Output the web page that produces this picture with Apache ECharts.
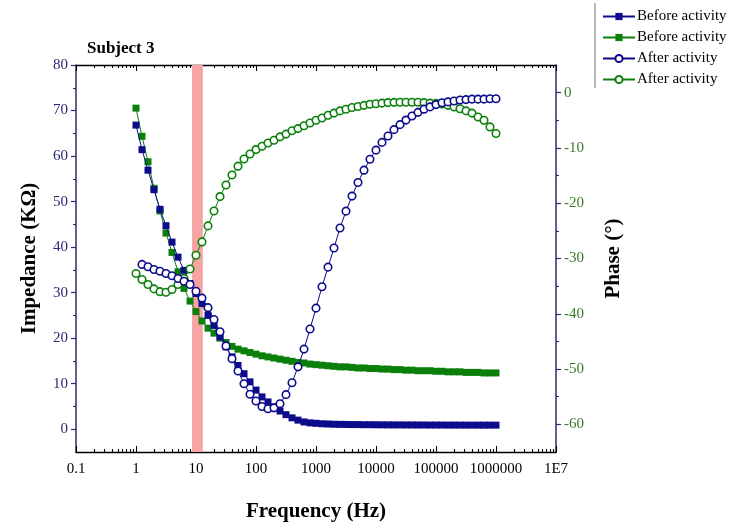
<!DOCTYPE html>
<html><head><meta charset="utf-8">
<script src="https://cdn.jsdelivr.net/npm/echarts@6/dist/echarts.min.js"></script>
<style>html,body{margin:0;padding:0;background:#fff}#c{width:735px;height:529px}</style>
</head><body><div id="c"></div>
<script>
const freq = [1,1.259,1.585,1.995,2.512,3.162,3.981,5.012,6.31,7.943,
  10,12.59,15.85,19.95,25.12,31.62,39.81,50.12,63.1,79.43,
  100,125.9,158.5,199.5,251.2,316.2,398.1,501.2,631,794.3,
  1000,1259,1585,1995,2512,3162,3981,5012,6310,7943,
  10000,12589,15849,19953,25119,31623,39811,50119,63096,79433,
  100000,125893,158489,199526,251189,316228,398107,501187,630957,794328,1000000];
const impedanceBefore = [66.8,61.4,56.9,52.6,48.3,44.7,41.1,37.8,34.9,32.0,
  29.8,27.6,25.0,22.8,20.3,18.1,15.9,14.0,12.2,10.4,
  8.6,7.1,6.0,4.9,4.0,3.2,2.5,2.0,1.6,1.4,
  1.3,1.2,1.15,1.1,1.07,1.05,1.03,1.02,1.0,1.0,
  0.98,0.97,0.96,0.95,0.95,0.94,0.94,0.93,0.93,0.92,
  0.92,0.92,0.91,0.91,0.91,0.9,0.9,0.9,0.9,0.9,0.9];
const phaseBefore = [-2.8,-7.9,-12.5,-17.3,-21.4,-25.4,-28.9,-32.4,-35.4,-37.7,
  -39.6,-41.3,-42.6,-43.5,-44.4,-45.2,-45.9,-46.4,-46.7,-47.0,
  -47.3,-47.6,-47.8,-48.0,-48.2,-48.4,-48.6,-48.8,-48.9,-49.1,
  -49.2,-49.3,-49.4,-49.5,-49.6,-49.6,-49.7,-49.8,-49.8,-49.9,
  -49.9,-50.0,-50.0,-50.1,-50.1,-50.2,-50.2,-50.3,-50.3,-50.3,
  -50.4,-50.4,-50.5,-50.5,-50.5,-50.6,-50.6,-50.6,-50.7,-50.7,-50.7];
const impedanceAfter = [null,36.2,35.7,35.1,34.7,34.2,33.7,33.1,32.5,31.8,
  30.3,28.8,26.7,24.1,21.4,18.3,15.5,12.8,10.0,7.7,
  6.2,5.0,4.5,4.7,5.6,7.6,10.2,13.7,17.6,22.0,
  26.6,31.3,35.6,39.8,44.2,47.9,51.2,54.2,56.9,59.3,
  61.3,63.0,64.4,65.8,66.9,67.9,68.8,69.6,70.3,70.8,
  71.3,71.7,71.9,72.1,72.3,72.4,72.5,72.5,72.5,72.6,72.6];
const phaseAfter = [-32.7,-33.8,-34.7,-35.5,-36.0,-36.1,-35.6,-34.7,-33.6,-31.9,
  -29.4,-27.0,-24.1,-21.4,-18.8,-16.7,-14.9,-13.3,-12.0,-11.1,
  -10.3,-9.7,-9.1,-8.6,-8.0,-7.5,-6.9,-6.5,-6.0,-5.5,
  -5.0,-4.6,-4.1,-3.7,-3.3,-3.0,-2.7,-2.5,-2.3,-2.1,
  -2.0,-1.9,-1.8,-1.76,-1.75,-1.75,-1.75,-1.75,-1.8,-1.9,
  -1.95,-2.05,-2.3,-2.6,-2.9,-3.3,-3.7,-4.4,-5.0,-6.2,-7.4];
const xTickLabels = ['0.1','1','10','100','1000','10000','100000','1000000','1E7'];
const leftTicks = [0,10,20,30,40,50,60,70,80];
const leftMinor = [5,15,25,35,45,55,65,75];
const rightTicks = [-60,-50,-40,-30,-20,-10,0];
const rightMinor = [-55,-45,-35,-25,-15,-5];
const bandRange = [8.6, 13];
const seriesNames = ['Before activity','Before activity','After activity','After activity'];

const FONT = 'Liberation Serif';
const NAVY = '#0b0b8c';
const GREEN = '#0a800a';
const AXIS_NAVY = '#2d2d72';

// decorative log-space tick positions (decades -1..7)
const majorLog = [], minorLog = [];
for (let n = -1; n <= 7; n++) {
  majorLog.push(n);
  if (n < 7) for (let m = 2; m <= 9; m++) minorLog.push(n + Math.log10(m));
}
function pairs(ys) { return freq.map((f, i) => [f, ys[i]]); }
function xLabel(v) {
  const idx = Math.round(Math.log10(v)) + 1;
  return xTickLabels[idx] !== undefined ? xTickLabels[idx] : '';
}

const chart = echarts.init(document.getElementById('c'));
const tickAxis = (pos, values, len, showLine) => ({
  type: 'value', min: -1, max: 7, position: pos, gridIndex: 0,
  axisLine: { show: showLine, onZero: false, lineStyle: { color: '#000', width: 1.3 } },
  axisTick: { show: true, inside: true, length: len, customValues: values, lineStyle: { color: '#000', width: 1.1 } },
  axisLabel: { show: false }, splitLine: { show: false }
});
const option = {
  animation: false,
  backgroundColor: '#fff',
  title: { text: 'Subject 3', left: 82, top: 35, textStyle: { fontFamily: FONT, fontWeight: 'bold', fontSize: 17, color: '#000' } },
  legend: {
    orient: 'vertical', left: 597, top: 4, itemWidth: 32, itemHeight: 9, itemGap: 6,
    data: ['s0','s1','s2','s3'],
    formatter: n => seriesNames[+n.slice(1)],
    textStyle: { fontFamily: FONT, fontSize: 15, color: '#000', lineHeight: 15, padding: [0, 0, 0, -3] }
  },
  graphic: [{ type: 'line', shape: { x1: 595, y1: 3, x2: 595, y2: 88 }, style: { stroke: '#888', lineWidth: 1.2 } }],
  grid: { left: 76, right: 179, top: 65, bottom: 77, containLabel: false },
  xAxis: [
    { type: 'log', logBase: 10, min: 0.1, max: 10000000, position: 'bottom', splitNumber: 8,
      axisLine: { show: true, onZero: false, lineStyle: { color: '#000', width: 1.3 } },
      axisTick: { show: false },
      axisLabel: { show: true, formatter: xLabel, fontFamily: FONT, fontSize: 15, color: '#000', margin: 10, hideOverlap: false, showMinLabel: true, showMaxLabel: true },
      splitLine: { show: false }, minorSplitLine: { show: false },
      name: 'Frequency (Hz)', nameLocation: 'middle', nameGap: 49,
      nameTextStyle: { fontFamily: FONT, fontWeight: 'bold', fontSize: 21, color: '#000' } },
    tickAxis('bottom', majorLog, 6, false),
    tickAxis('bottom', minorLog, 3, false),
    tickAxis('top', majorLog, 6, true),
    tickAxis('top', minorLog, 3, false)
  ],
  yAxis: [
    { type: 'value', min: -5, max: 80, position: 'left',
      axisLine: { show: true, onZero: false, lineStyle: { color: AXIS_NAVY, width: 1.5 } },
      axisTick: { show: true, inside: false, length: 5, customValues: leftTicks, lineStyle: { color: AXIS_NAVY, width: 1.2 } },
      axisLabel: { customValues: leftTicks, fontFamily: FONT, fontSize: 15, color: '#2a2a78', margin: 8 },
      splitLine: { show: false },
      name: 'Impedance (KΩ)', nameLocation: 'middle', nameGap: 36, nameRotate: 90,
      nameTextStyle: { fontFamily: FONT, fontWeight: 'bold', fontSize: 21, color: '#000' } },
    { type: 'value', min: -65, max: 5, position: 'right',
      axisLine: { show: true, onZero: false, lineStyle: { color: AXIS_NAVY, width: 1.5 } },
      axisTick: { show: true, inside: false, length: 5, customValues: rightTicks, lineStyle: { color: AXIS_NAVY, width: 1.2 } },
      axisLabel: { customValues: rightTicks, fontFamily: FONT, fontSize: 15, color: '#3a7a28', margin: 8 },
      splitLine: { show: false },
      name: 'Phase (°)', nameLocation: 'middle', nameGap: 47, nameRotate: 90,
      nameTextStyle: { fontFamily: FONT, fontWeight: 'bold', fontSize: 21, color: '#000' } },
    { type: 'value', min: -5, max: 80, position: 'left',
      axisLine: { show: false, onZero: false }, axisLabel: { show: false }, splitLine: { show: false },
      axisTick: { show: true, inside: false, length: 3, customValues: leftMinor, lineStyle: { color: AXIS_NAVY, width: 1.1 } } },
    { type: 'value', min: -65, max: 5, position: 'right',
      axisLine: { show: false, onZero: false }, axisLabel: { show: false }, splitLine: { show: false },
      axisTick: { show: true, inside: false, length: 3, customValues: rightMinor, lineStyle: { color: AXIS_NAVY, width: 1.1 } } }
  ],
  series: [
    { name: 's1', type: 'line', xAxisIndex: 0, yAxisIndex: 1, data: pairs(phaseBefore),
      symbol: 'rect', symbolSize: 7, lineStyle: { color: GREEN, width: 1 }, itemStyle: { color: GREEN }, z: 3,
      markArea: { silent: true, itemStyle: { color: '#f7a3a3' }, data: [[{ xAxis: bandRange[0] }, { xAxis: bandRange[1] }]] } },
    { name: 's0', type: 'line', xAxisIndex: 0, yAxisIndex: 0, data: pairs(impedanceBefore),
      symbol: 'rect', symbolSize: 7, lineStyle: { color: NAVY, width: 1 }, itemStyle: { color: NAVY }, z: 4 },
    { name: 's3', type: 'line', xAxisIndex: 0, yAxisIndex: 1, data: pairs(phaseAfter),
      symbol: 'circle', symbolSize: 7.5, lineStyle: { color: GREEN, width: 1 }, itemStyle: { color: '#fff', borderColor: GREEN, borderWidth: 1.6 }, z: 5 },
    { name: 's2', type: 'line', xAxisIndex: 0, yAxisIndex: 0, data: pairs(impedanceAfter), connectNulls: false,
      symbol: 'circle', symbolSize: 7.5, lineStyle: { color: NAVY, width: 1 }, itemStyle: { color: '#fff', borderColor: NAVY, borderWidth: 1.6 }, z: 6 }
  ]
};
chart.setOption(option);
</script></body></html>
